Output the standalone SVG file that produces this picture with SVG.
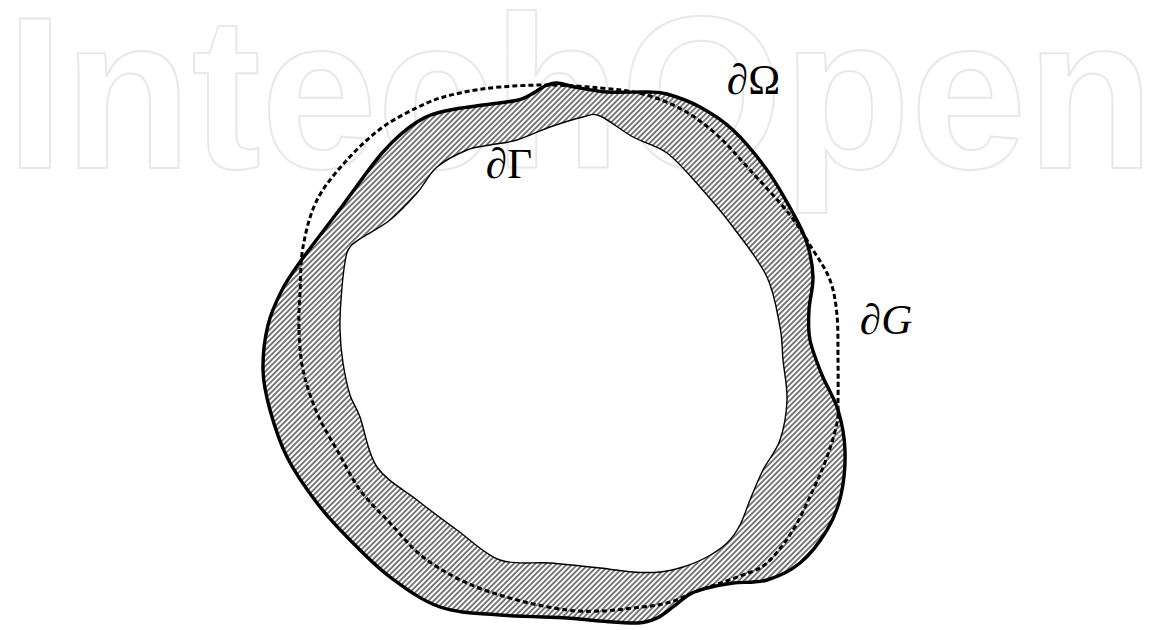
<svg xmlns="http://www.w3.org/2000/svg" width="1151" height="630" viewBox="0 0 1151 630">
<defs>
<style>
.wm{font-family:"Liberation Sans",Arial,sans-serif;font-weight:bold;font-size:218px;fill:none;stroke:#e8e8e8;stroke-width:2;stroke-linejoin:round}
.lbl{font-family:"Liberation Serif","Times New Roman",serif;font-size:43px;fill:#000}
.it{font-style:italic}
.outer{fill:none;stroke:#000;stroke-width:3.4;stroke-linejoin:round}
.inner{fill:none;stroke:#000;stroke-width:1.4}
.dash{fill:none;stroke:#000;stroke-width:3;stroke-dasharray:5 3}
</style>
<pattern id="hatch" patternUnits="userSpaceOnUse" width="3.8" height="3.8" patternTransform="rotate(45)">
<rect width="3.8" height="3.8" fill="#fff"/>
<line x1="1.9" y1="0" x2="1.9" y2="3.8" stroke="#5a5a5a" stroke-width="1.6"/>
</pattern>
</defs>
<rect width="1151" height="630" fill="#fff"/>
<g id="watermark">
<text class="wm" x="6" y="168" textLength="1148" lengthAdjust="spacingAndGlyphs">IntechOpen</text>
</g>
<g id="region">
<path fill="url(#hatch)" fill-rule="evenodd" d="M263,370 C262.7,355.8 264.8,338.3 268,325 C271.2,311.7 276.7,300.5 282,290 C287.3,279.5 289.8,276.2 300,262 C310.2,247.8 329.2,223.3 343,205 C356.8,186.7 370.7,165.8 383,152 C395.3,138.2 405.8,129 417,122 C428.2,115 434,113.5 450,110 C466,106.5 499.7,103.5 513,101 C526.3,98.5 524.7,97.5 530,95 C535.3,92.5 540.5,88 545,86 C549.5,84 552,82.8 557,83 C562,83.2 566.7,85.5 575,87 C583.3,88.5 595,91.2 607,92 C619,92.8 637,91.7 647,92 C657,92.3 658.2,91.5 667,94 C675.8,96.5 689,101 700,107 C711,113 721.8,119.5 733,130 C744.2,140.5 757,156.2 767,170 C777,183.8 786.3,200.8 793,213 C799.7,225.2 803.7,232.3 807,243 C810.3,253.7 812.7,265.8 813,277 C813.3,288.2 809.5,299.5 809,310 C808.5,320.5 807.8,329.2 810,340 C812.2,350.8 817.3,363.3 822,375 C826.7,386.7 834.2,397.5 838,410 C841.8,422.5 844.5,435.8 845,450 C845.5,464.2 844,481.7 841,495 C838,508.3 833.8,518.7 827,530 C820.2,541.3 810,554.7 800,563 C790,571.3 778.2,576.7 767,580 C755.8,583.3 743,581.7 733,583 C723,584.3 714.2,586.2 707,588 C699.8,589.8 695.7,590.8 690,594 C684.3,597.2 678.5,603 673,607 C667.5,611 662.8,615.3 657,618 C651.2,620.7 647.5,622.5 638,623 C628.5,623.5 611.8,621.8 600,621 C588.2,620.2 583.7,619 567,618 C550.3,617 521.2,616.8 500,615 C478.8,613.2 458.3,613.3 440,607 C421.7,600.7 405,588.2 390,577 C375,565.8 362.2,552.3 350,540 C337.8,527.7 327.5,516.8 317,503 C306.5,489.2 294.8,472.5 287,457 C279.2,441.5 274,424.5 270,410 C266,395.5 263.3,384.2 263,370 Z M340,330 C340.3,340.5 341.3,352.2 343,363 C344.7,373.8 347.2,386 350,395 C352.8,404 355.5,405 360,417 C364.5,429 367.5,453.2 377,467 C386.5,480.8 403.7,489.5 417,500 C430.3,510.5 443.2,520 457,530 C470.8,540 484.5,554.5 500,560 C515.5,565.5 533.3,561.7 550,563 C566.7,564.3 586.2,566.5 600,568 C613.8,569.5 623,571.3 633,572 C643,572.7 651.7,572.8 660,572 C668.3,571.2 675.2,569.5 683,567 C690.8,564.5 699.7,561 707,557 C714.3,553 721.5,548.3 727,543 C732.5,537.7 736.2,532.2 740,525 C743.8,517.8 746.2,509.2 750,500 C753.8,490.8 758,480 763,470 C768,460 776,451.7 780,440 C784,428.3 786.5,413.3 787,400 C787.5,386.7 784.2,372.2 783,360 C781.8,347.8 782.7,340.8 780,327 C777.3,313.2 774.8,293.7 767,277 C759.2,260.3 744.2,242 733,227 C721.8,212 711,199.3 700,187 C689,174.7 678.2,161.3 667,153 C655.8,144.7 644.2,143.2 633,137 C621.8,130.8 608.3,119.3 600,116 C591.7,112.7 591.3,115.2 583,117 C574.7,118.8 561,123.2 550,127 C539,130.8 527,137 517,140 C507,143 498.3,143.3 490,145 C481.7,146.7 475.8,146.3 467,150 C458.2,153.7 445.3,159.8 437,167 C428.7,174.2 424.8,184.2 417,193 C409.2,201.8 399,212.7 390,220 C381,227.3 369.7,232.5 363,237 C356.3,241.5 353,242.8 350,247 C347,251.2 346.5,253.2 345,262 C343.5,270.8 341.8,288.7 341,300 C340.2,311.3 339.7,319.5 340,330 Z"/>
</g>
<g id="gamma-boundary">
<path class="inner" d="M340,330 C340.3,340.5 341.3,352.2 343,363 C344.7,373.8 347.2,386 350,395 C352.8,404 355.5,405 360,417 C364.5,429 367.5,453.2 377,467 C386.5,480.8 403.7,489.5 417,500 C430.3,510.5 443.2,520 457,530 C470.8,540 484.5,554.5 500,560 C515.5,565.5 533.3,561.7 550,563 C566.7,564.3 586.2,566.5 600,568 C613.8,569.5 623,571.3 633,572 C643,572.7 651.7,572.8 660,572 C668.3,571.2 675.2,569.5 683,567 C690.8,564.5 699.7,561 707,557 C714.3,553 721.5,548.3 727,543 C732.5,537.7 736.2,532.2 740,525 C743.8,517.8 746.2,509.2 750,500 C753.8,490.8 758,480 763,470 C768,460 776,451.7 780,440 C784,428.3 786.5,413.3 787,400 C787.5,386.7 784.2,372.2 783,360 C781.8,347.8 782.7,340.8 780,327 C777.3,313.2 774.8,293.7 767,277 C759.2,260.3 744.2,242 733,227 C721.8,212 711,199.3 700,187 C689,174.7 678.2,161.3 667,153 C655.8,144.7 644.2,143.2 633,137 C621.8,130.8 608.3,119.3 600,116 C591.7,112.7 591.3,115.2 583,117 C574.7,118.8 561,123.2 550,127 C539,130.8 527,137 517,140 C507,143 498.3,143.3 490,145 C481.7,146.7 475.8,146.3 467,150 C458.2,153.7 445.3,159.8 437,167 C428.7,174.2 424.8,184.2 417,193 C409.2,201.8 399,212.7 390,220 C381,227.3 369.7,232.5 363,237 C356.3,241.5 353,242.8 350,247 C347,251.2 346.5,253.2 345,262 C343.5,270.8 341.8,288.7 341,300 C340.2,311.3 339.7,319.5 340,330 Z"/>
</g>
<g id="omega-boundary">
<path class="outer" d="M263,370 C262.7,355.8 264.8,338.3 268,325 C271.2,311.7 276.7,300.5 282,290 C287.3,279.5 289.8,276.2 300,262 C310.2,247.8 329.2,223.3 343,205 C356.8,186.7 370.7,165.8 383,152 C395.3,138.2 405.8,129 417,122 C428.2,115 434,113.5 450,110 C466,106.5 499.7,103.5 513,101 C526.3,98.5 524.7,97.5 530,95 C535.3,92.5 540.5,88 545,86 C549.5,84 552,82.8 557,83 C562,83.2 566.7,85.5 575,87 C583.3,88.5 595,91.2 607,92 C619,92.8 637,91.7 647,92 C657,92.3 658.2,91.5 667,94 C675.8,96.5 689,101 700,107 C711,113 721.8,119.5 733,130 C744.2,140.5 757,156.2 767,170 C777,183.8 786.3,200.8 793,213 C799.7,225.2 803.7,232.3 807,243 C810.3,253.7 812.7,265.8 813,277 C813.3,288.2 809.5,299.5 809,310 C808.5,320.5 807.8,329.2 810,340 C812.2,350.8 817.3,363.3 822,375 C826.7,386.7 834.2,397.5 838,410 C841.8,422.5 844.5,435.8 845,450 C845.5,464.2 844,481.7 841,495 C838,508.3 833.8,518.7 827,530 C820.2,541.3 810,554.7 800,563 C790,571.3 778.2,576.7 767,580 C755.8,583.3 743,581.7 733,583 C723,584.3 714.2,586.2 707,588 C699.8,589.8 695.7,590.8 690,594 C684.3,597.2 678.5,603 673,607 C667.5,611 662.8,615.3 657,618 C651.2,620.7 647.5,622.5 638,623 C628.5,623.5 611.8,621.8 600,621 C588.2,620.2 583.7,619 567,618 C550.3,617 521.2,616.8 500,615 C478.8,613.2 458.3,613.3 440,607 C421.7,600.7 405,588.2 390,577 C375,565.8 362.2,552.3 350,540 C337.8,527.7 327.5,516.8 317,503 C306.5,489.2 294.8,472.5 287,457 C279.2,441.5 274,424.5 270,410 C266,395.5 263.3,384.2 263,370 Z"/>
</g>
<g id="g-boundary">
<path class="dash" d="M299,330 C299.5,342.8 300,356.2 303,370 C306,383.8 311.3,399.7 317,413 C322.7,426.3 329.8,437.2 337,450 C344.2,462.8 351.2,477.8 360,490 C368.8,502.2 379.5,511.8 390,523 C400.5,534.2 410.2,547 423,557 C435.8,567 451.3,575.8 467,583 C482.7,590.2 500.3,595.5 517,600 C533.7,604.5 553.2,608.2 567,610 C580.8,611.8 589,611.3 600,611 C611,610.7 621.8,609.3 633,608 C644.2,606.7 655.8,606 667,603 C678.2,600 687.8,594.5 700,590 C712.2,585.5 728.8,580.5 740,576 C751.2,571.5 758.2,570.7 767,563 C775.8,555.3 785.3,542.2 793,530 C800.7,517.8 807.3,502.2 813,490 C818.7,477.8 823,468.2 827,457 C831,445.8 835.2,432.5 837,423 C838.8,413.5 837.8,410.5 838,400 C838.2,389.5 838.2,374.2 838,360 C837.8,345.8 838.3,328.3 837,315 C835.7,301.7 834,290.8 830,280 C826,269.2 819.7,260.8 813,250 C806.3,239.2 800.5,228.3 790,215 C779.5,201.7 762.2,183.3 750,170 C737.8,156.7 728.2,145 717,135 C705.8,125 695.3,116.8 683,110 C670.7,103.2 656.8,97.700 643,94 C629.2,90.3 615.5,89.5 600,88 C584.5,86.5 566.7,85.2 550,85 C533.3,84.8 515,85.7 500,87 C485,88.3 472.2,90.3 460,93 C447.8,95.7 439.8,97.3 427,103 C414.2,108.7 396.3,117.5 383,127 C369.7,136.5 358,147.8 347,160 C336,172.2 324.3,185.5 317,200 C309.7,214.5 305.8,231.5 303,247 C300.2,262.5 300.7,279.2 300,293 C299.3,305.8 298.5,317.2 299,330 Z"/>
</g>
<g id="labels">
<text class="lbl" x="727" y="94"><tspan class="it">∂</tspan>Ω</text>
<text class="lbl" x="486" y="178"><tspan class="it">∂</tspan>Γ</text>
<text class="lbl" x="860" y="334"><tspan class="it">∂G</tspan></text>
</g>
</svg>
